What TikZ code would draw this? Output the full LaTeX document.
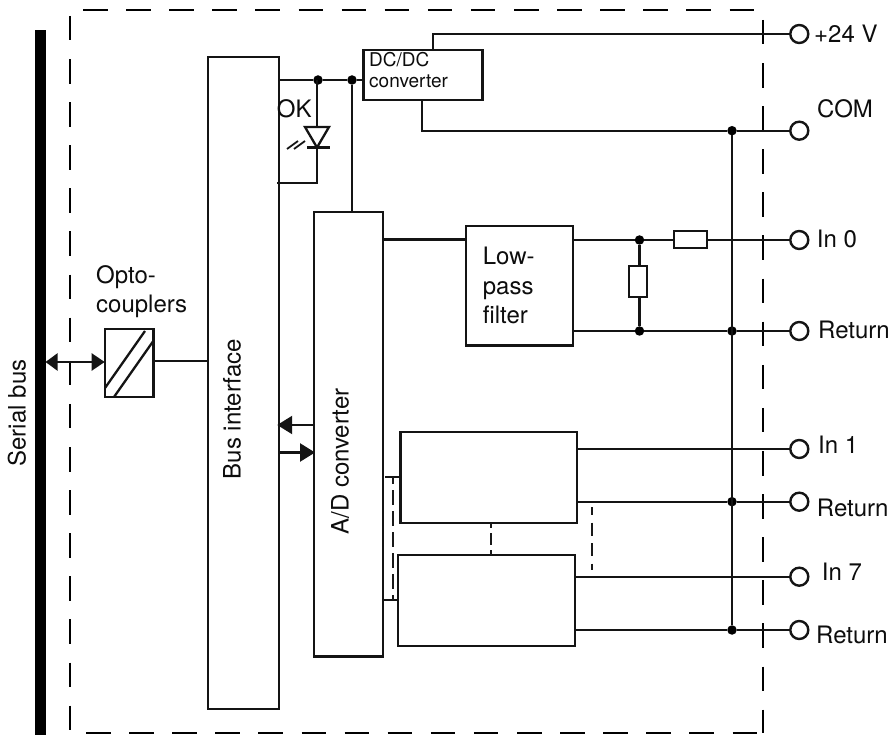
\documentclass[tikz,border=0pt]{standalone}
\usepackage{fontspec}
\setmainfont{TeX Gyre Heros}
\usetikzlibrary{arrows.meta}
\tikzset{
  wire/.style={line width=2.3pt,draw=black!92},
  frame/.style={line width=2.6pt,draw=black,dash pattern=on 24.5pt off 18.6pt},
  shortdash/.style={line width=2.3pt,draw=black!90,dash pattern=on 13pt off 7.5pt,dash phase=5pt},
  boxn/.style={draw=black!92,line width=2.4pt,rectangle,inner sep=0pt,outer sep=0pt,fill=white},
  term/.style={draw=black!92,line width=2.4pt,circle,minimum size=18pt,inner sep=0pt,outer sep=0pt,fill=white},
  jdot/.style={fill=black,circle,minimum size=9.5pt,inner sep=0pt,outer sep=0pt},
  lbl/.style={font=\fontsize{24}{27}\selectfont,inner sep=0pt,anchor=base west,text=black!95},
  smalllbl/.style={font=\fontsize{19}{21}\selectfont,inner sep=0pt,anchor=base west,text=black!95},
  rotlbl/.style={font=\fontsize{24}{27}\selectfont,inner sep=0pt,rotate=90,text=black!95},
  tipa/.style={-{Triangle[length=15pt,width=18pt]}},
}
\begin{document}
\begin{tikzpicture}[x=1pt,y=-1pt]
\useasboundingbox (0,0) rectangle (892,735);
% enclosure
\draw[frame] (83,10) -- (757,10);
\draw[frame] (70,16) -- (70,731);
\draw[frame] (86,733) -- (760,733);
\draw[frame] (763,20) -- (763,733);
% blocks
\node[fill=black,minimum width=11pt,minimum height=705pt,inner sep=0pt,outer sep=0pt] (sbus) at (40,382.5) {};
\node[boxn,minimum width=71pt,minimum height=652pt] (bus) at (243.2,383) {};
\node[boxn,minimum width=68.7pt,minimum height=444.7pt] (ad) at (348.4,434.3) {};
\node[boxn,minimum width=119pt,minimum height=50pt] (dc) at (422.8,75) {};
\node[boxn,minimum width=107pt,minimum height=119.7pt] (lp) at (519.2,285.8) {};
\node[boxn,minimum width=176.3pt,minimum height=91pt] (b1) at (488.8,477.5) {};
\node[boxn,minimum width=177pt,minimum height=91pt] (b7) at (486.5,600.5) {};
\node[boxn,minimum width=48.6pt,minimum height=68pt] (opto) at (129,363) {};
\node[boxn,minimum width=33pt,minimum height=17pt] (r1) at (690.5,239.5) {};
\node[boxn,minimum width=18pt,minimum height=31pt] (r2) at (638,281.5) {};
% terminals
\node[term] (t24) at (799.3,34) {};
\node[term] (tcom) at (799.3,130.7) {};
\node[term] (t0) at (799.3,240) {};
\node[term] (tr0) at (799.3,331) {};
\node[term] (t1) at (799.3,449) {};
\node[term] (tr1) at (799.3,501.7) {};
\node[term] (t7) at (799.3,576.7) {};
\node[term] (tr7) at (799.3,630) {};
% junctions
\node[jdot] (j1) at (318,80) {};
\node[jdot] (j2) at (352,80) {};
\node[jdot] (jcom) at (732,130.7) {};
\node[jdot] (jf1) at (639.5,240) {};
\node[jdot] (jf2) at (639.5,331) {};
\node[jdot] (jr0) at (732,331) {};
\node[jdot] (jr1) at (732,501.7) {};
\node[jdot] (jr7) at (732,630) {};
% named free ends
\coordinate (dcin) at (dc.west |- j1);
\coordinate (p24) at (433,33.7);
\coordinate (pcom) at (422,130.7);
\coordinate (dtop) at (317,127);
\coordinate (dbot) at (317,147.5);
\coordinate (dend) at (277,183);
% main wiring
\draw[wire] (bus.east |- j1) -- (j1) -- (j2) -- (dcin);
\draw[wire] (p24 |- dc.north) -- (p24) -- (t24.west |- p24);
\draw[wire] (pcom |- dc.south) -- (pcom) -- (jcom) -- (tcom);
\draw[wire] (j2) -- (j2 |- ad.north);
\draw[wire] (317,80) -- (dtop);
\draw[wire] (dbot) -- (317,183) -- (dend);
\draw[wire] (ad.east |- 0,239.5) -- (lp.west |- 0,239.5);
\draw[wire] (lp.east |- jf1) -- (jf1) -- (r1.west |- jf1);
\draw[wire] (r1.east |- t0) -- (t0);
\draw[wire] (lp.east |- jf2) -- (jf2) -- (jr0) -- (tr0);
\draw[wire] (jf1) -- (r2.north -| jf1);
\draw[wire] (r2.south -| jf2) -- (jf2);
\draw[wire] (jcom) -- (jr7);
\draw[wire] (b1.east |- t1) -- (t1);
\draw[wire] (b1.east |- tr1) -- (jr1) -- (tr1);
\draw[wire] (b7.east |- t7) -- (t7);
\draw[wire] (b7.east |- tr7) -- (jr7) -- (tr7);
\draw[wire] (opto.east |- 0,361) -- (bus.west |- 0,361);
\draw[wire,{Triangle[length=12pt,width=17pt]}-{Triangle[length=13pt,width=17pt]}] (sbus.east |- 0,362) -- (opto.west |- 0,362);
\draw[wire,tipa] (ad.west |- 0,425) -- ([xshift=-1.5pt]bus.east |- 0,425);
\draw[wire,tipa] (bus.east |- 0,452.5) -- ([xshift=1pt]ad.west |- 0,452.5);
\draw[wire] (385,476.7) -- ([xshift=1pt]b1.west |- 0,476.7);
\draw[wire] (ad.east |- 0,600) -- ([xshift=1pt]b7.west |- 0,600);
% dashed links
\draw[shortdash,dash pattern=on 15pt off 6pt,dash phase=8pt] (393,477) -- (393,600);
\draw[shortdash,dash pattern=on 12pt off 5pt,dash phase=7pt] (490.7,523) -- (490.7,555);
\draw[shortdash] (591.7,507) -- (591.7,570);
% optocoupler strokes
\draw[wire] (105,388) -- (145,331);
\draw[wire] (114,397) -- (154,340);
% diode
\draw[wire,fill=white,line join=miter] (305,127) -- (329,127) -- (317,147.5) -- cycle;
\draw[wire] (307,147.5) -- (330,147.5);
\draw[wire,line width=1.8pt] (287,149) -- (298,141);
\draw[wire,line width=1.8pt] (294,149) -- (305,141);
% labels
\node[rotlbl] (lsb) at (17,413) {Serial bus};
\node[rotlbl] (lbi) at (232,409) {Bus interface};
\node[rotlbl] (lad) at (340,461.5) {A/D converter};
\node[lbl] (lo1) at (96,284) {Opto-};
\node[lbl] (lo2) at (96,313) {couplers};
\node[lbl] (lok) at (276.7,118) {OK};
\node[smalllbl] (ldc1) at (369,66.7) {DC/DC};
\node[smalllbl] (ldc2) at (369,88) {converter};
\node[lbl] (ll1) at (482.7,265) {Low-};
\node[lbl] (ll2) at (482.7,295) {pass};
\node[lbl] (ll3) at (482.7,324) {filter};
\node[lbl] at (814,42.5) {+24 V};
\node[lbl] at (817,118) {COM};
\node[lbl] at (816.7,248) {In 0};
\node[lbl] at (818,338.5) {Return};
\node[lbl] at (818,453) {In 1};
\node[lbl] at (816.7,516.5) {Return};
\node[lbl] at (821.7,580.5) {In 7};
\node[lbl] at (816,643.5) {Return};
\end{tikzpicture}
\end{document}
